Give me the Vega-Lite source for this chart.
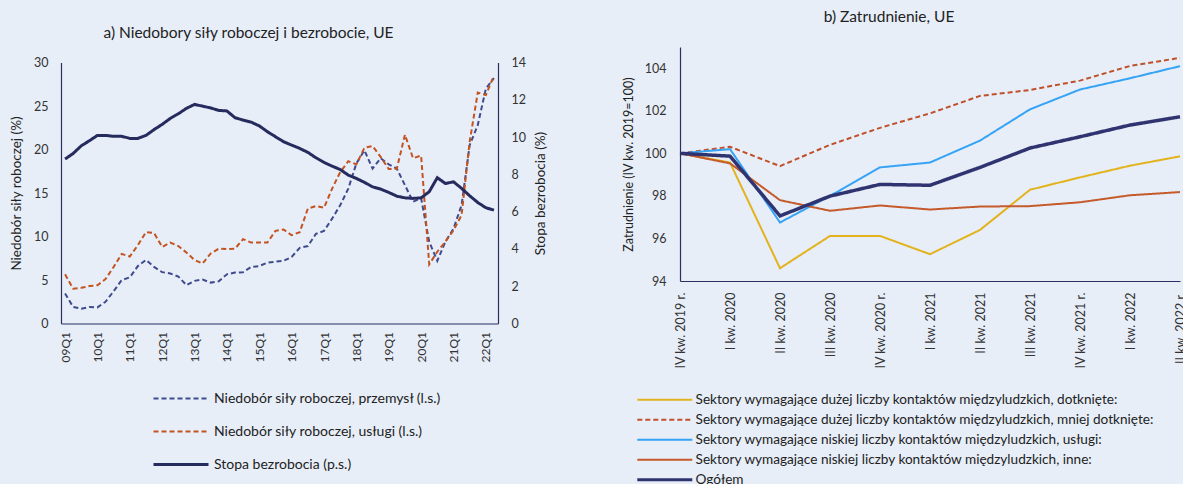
{
  "$schema": "https://vega.github.io/schema/vega-lite/v6.json",
  "background": "#e7eef8",
  "padding": {"left": 9, "top": 9, "right": 0, "bottom": 0},
  "spacing": 75,
  "center": true,
  "config": {
    "view": {"stroke": null},
    "font": "Lato",
    "axis": {"grid": false, "ticks": false, "domainColor": "#2b2f62", "domainWidth": 1.2, "labelFont": "Lato", "labelFontSize": 12.5, "labelColor": "#333333", "titleFont": "Lato", "titleFontSize": 13.5, "titleFontWeight": "normal", "titleColor": "#222222"},
    "legend": {"labelFont": "Lato", "labelColor": "#222222", "symbolType": "stroke", "symbolSize": 3025, "symbolStrokeWidth": 2, "title": null, "labelLimit": 0},
    "title": {"font": "Lato", "fontSize": 15.5, "fontWeight": "normal", "color": "#222222"}
  },
  "datasets": {
    "left": [
      {"q": "09Q1", "p": 3.45, "u": 5.65, "b": 8.82},
      {"q": "09Q2", "p": 1.9, "u": 4.0, "b": 9.12},
      {"q": "09Q3", "p": 1.7, "u": 4.1, "b": 9.53},
      {"q": "09Q4", "p": 1.9, "u": 4.3, "b": 9.8},
      {"q": "10Q1", "p": 1.85, "u": 4.4, "b": 10.09},
      {"q": "10Q2", "p": 2.5, "u": 5.1, "b": 10.09},
      {"q": "10Q3", "p": 3.7, "u": 6.5, "b": 10.04},
      {"q": "10Q4", "p": 5.0, "u": 8.0, "b": 10.04},
      {"q": "11Q1", "p": 5.3, "u": 7.7, "b": 9.93},
      {"q": "11Q2", "p": 6.6, "u": 9.0, "b": 9.93},
      {"q": "11Q3", "p": 7.3, "u": 10.5, "b": 10.09},
      {"q": "11Q4", "p": 6.5, "u": 10.4, "b": 10.4},
      {"q": "12Q1", "p": 5.9, "u": 8.8, "b": 10.68},
      {"q": "12Q2", "p": 5.75, "u": 9.3, "b": 11.0},
      {"q": "12Q3", "p": 5.4, "u": 8.9, "b": 11.25},
      {"q": "12Q4", "p": 4.4, "u": 8.15, "b": 11.54},
      {"q": "13Q1", "p": 4.9, "u": 7.3, "b": 11.75},
      {"q": "13Q2", "p": 5.05, "u": 6.9, "b": 11.66},
      {"q": "13Q3", "p": 4.7, "u": 8.05, "b": 11.56},
      {"q": "13Q4", "p": 4.85, "u": 8.6, "b": 11.43},
      {"q": "14Q1", "p": 5.65, "u": 8.55, "b": 11.4},
      {"q": "14Q2", "p": 5.85, "u": 8.6, "b": 11.04},
      {"q": "14Q3", "p": 5.9, "u": 9.7, "b": 10.91},
      {"q": "14Q4", "p": 6.5, "u": 9.3, "b": 10.8},
      {"q": "15Q1", "p": 6.6, "u": 9.3, "b": 10.6},
      {"q": "15Q2", "p": 7.0, "u": 9.3, "b": 10.29},
      {"q": "15Q3", "p": 7.1, "u": 10.65, "b": 10.02},
      {"q": "15Q4", "p": 7.2, "u": 10.8, "b": 9.75},
      {"q": "16Q1", "p": 7.65, "u": 10.15, "b": 9.57},
      {"q": "16Q2", "p": 8.7, "u": 10.5, "b": 9.39},
      {"q": "16Q3", "p": 8.9, "u": 13.2, "b": 9.18},
      {"q": "16Q4", "p": 10.3, "u": 13.5, "b": 8.89},
      {"q": "17Q1", "p": 10.65, "u": 13.3, "b": 8.64},
      {"q": "17Q2", "p": 12.05, "u": 15.5, "b": 8.44},
      {"q": "17Q3", "p": 13.6, "u": 17.4, "b": 8.26},
      {"q": "17Q4", "p": 15.5, "u": 18.65, "b": 7.96},
      {"q": "18Q1", "p": 18.4, "u": 18.3, "b": 7.78},
      {"q": "18Q2", "p": 19.9, "u": 20.2, "b": 7.57},
      {"q": "18Q3", "p": 17.8, "u": 20.4, "b": 7.33},
      {"q": "18Q4", "p": 19.0, "u": 19.15, "b": 7.21},
      {"q": "19Q1", "p": 18.3, "u": 17.75, "b": 7.03},
      {"q": "19Q2", "p": 17.8, "u": 17.8, "b": 6.83},
      {"q": "19Q3", "p": 15.9, "u": 21.7, "b": 6.74},
      {"q": "19Q4", "p": 14.0, "u": 19.0, "b": 6.71},
      {"q": "20Q1", "p": 14.4, "u": 19.3, "b": 6.74},
      {"q": "20Q2", "p": 9.4, "u": 6.8, "b": 7.07},
      {"q": "20Q3", "p": 7.2, "u": 8.25, "b": 7.82},
      {"q": "20Q4", "p": 9.4, "u": 9.4, "b": 7.51},
      {"q": "21Q1", "p": 10.9, "u": 10.7, "b": 7.6},
      {"q": "21Q2", "p": 13.6, "u": 12.45, "b": 7.25},
      {"q": "21Q3", "p": 20.5, "u": 20.9, "b": 6.85},
      {"q": "21Q4", "p": 22.8, "u": 26.55, "b": 6.49},
      {"q": "22Q1", "p": 27.0, "u": 26.25, "b": 6.21},
      {"q": "22Q2", "p": 28.2, "u": 28.5, "b": 6.08}
    ],
    "right": [
      {"k": "IV kw. 2019 r.", "y1": 100, "y2": 100, "y3": 100, "y4": 100, "og": 100},
      {"k": "I kw. 2020", "y1": 99.57, "y2": 100.31, "y3": 100.2, "y4": 99.53, "og": 99.87},
      {"k": "II kw. 2020", "y1": 94.6, "y2": 99.4, "y3": 96.75, "y4": 97.8, "og": 97.06},
      {"k": "III kw. 2020", "y1": 96.12, "y2": 100.4, "y3": 98.0, "y4": 97.3, "og": 97.99},
      {"k": "IV kw. 2020 r.", "y1": 96.12, "y2": 101.2, "y3": 99.34, "y4": 97.55, "og": 98.54},
      {"k": "I kw. 2021", "y1": 95.26, "y2": 101.88, "y3": 99.57, "y4": 97.36, "og": 98.5},
      {"k": "II kw. 2021", "y1": 96.4, "y2": 102.7, "y3": 100.6, "y4": 97.5, "og": 99.34},
      {"k": "III kw. 2021", "y1": 98.29, "y2": 102.98, "y3": 102.07, "y4": 97.52, "og": 100.25},
      {"k": "IV kw. 2021 r.", "y1": 98.87, "y2": 103.42, "y3": 103.0, "y4": 97.7, "og": 100.78},
      {"k": "I kw. 2022", "y1": 99.42, "y2": 104.11, "y3": 103.53, "y4": 98.03, "og": 101.33},
      {"k": "II kw. 2022 r.", "y1": 99.86, "y2": 104.49, "y3": 104.1, "y4": 98.18, "og": 101.72}
    ]
  },
  "hconcat": [
    {
      "data": {"name": "left"},
      "width": 437,
      "height": 261,
      "title": {"text": "a) Niedobory siły roboczej i bezrobocie, UE", "frame": "group", "dx": -31, "offset": 15},
      "encoding": {
        "x": {"field": "q", "type": "ordinal", "sort": null, "scale": {"type": "point", "padding": 0.5},
          "axis": {"title": null, "labelAngle": -90, "labelPadding": 8, "labelFontSize": 12, "labelExpr": "indexof(datum.value, 'Q1') >= 0 ? datum.value : ''"}}
      },
      "layer": [
        {
          "transform": [{"fold": ["p", "u"]}],
          "mark": {"type": "line", "strokeWidth": 2},
          "encoding": {
            "y": {"field": "value", "type": "quantitative", "scale": {"domain": [0, 30], "nice": false},
              "axis": {"title": "Niedobór siły roboczej (%)", "values": [0, 5, 10, 15, 20, 25, 30], "labelPadding": 13, "titlePadding": 10}},
            "color": {"field": "key", "type": "nominal",
              "scale": {"domain": ["p", "u", "b"], "range": ["#3f4b8c", "#c4531f", "#262b5e"]},
              "legend": {"orient": "none", "legendX": 106, "legendY": 322, "padding": 7, "labelFontSize": 14, "rowPadding": 19, "labelOffset": 26,
                "labelExpr": "datum.value == 'p' ? 'Niedobór siły roboczej, przemysł (l.s.)' : datum.value == 'u' ? 'Niedobór siły roboczej, usługi (l.s.)' : 'Stopa bezrobocia (p.s.)'",
                "encode": {"symbols": {"update": {"strokeWidth": {"signal": "datum.value == 'b' ? 3 : 2"}}}}}},
            "strokeDash": {"field": "key", "type": "nominal", "scale": {"domain": ["p", "u", "b"], "range": [[5, 3], [5, 3], [1, 0]]}}
          }
        },
        {
          "transform": [{"fold": ["b"]}],
          "mark": {"type": "line", "strokeWidth": 3},
          "encoding": {
            "y": {"field": "value", "type": "quantitative", "scale": {"domain": [0, 14], "nice": false},
              "axis": {"orient": "right", "title": "Stopa bezrobocia (%)", "titleAngle": 270, "values": [0, 2, 4, 6, 8, 10, 12, 14], "labelPadding": 13, "titlePadding": 22}},
            "color": {"field": "key", "type": "nominal", "scale": {"domain": ["p", "u", "b"]}},
            "strokeDash": {"field": "key", "type": "nominal", "scale": {"domain": ["p", "u", "b"]}}
          }
        }
      ],
      "resolve": {"scale": {"y": "independent"}}
    },
    {
      "data": {"name": "right"},
      "width": 500,
      "height": 234,
      "title": {"text": "b) Zatrudnienie, UE", "frame": "group", "dx": -41, "offset": 22},
      "encoding": {
        "x": {"field": "k", "type": "ordinal", "sort": null, "scale": {"type": "point", "padding": 0},
          "axis": {"title": null, "labelAngle": -90, "labelPadding": 11, "labelFontSize": 12.5}},
        "y": {"field": "value", "type": "quantitative", "scale": {"domain": [94, 105], "nice": false},
          "axis": {"title": "Zatrudnienie (IV kw. 2019=100)", "values": [94, 96, 98, 100, 102, 104], "labelPadding": 14, "titlePadding": 9, "titleFontSize": 12.5}}
      },
      "layer": [
        {
          "transform": [{"fold": ["y1", "y2", "y3", "y4"]}],
          "mark": {"type": "line", "strokeWidth": 2},
          "encoding": {
            "color": {"field": "key", "type": "nominal",
              "scale": {"domain": ["y1", "y2", "y3", "y4", "og"], "range": ["#e2b31c", "#c0502a", "#36a3f5", "#c55a2a", "#2f3470"]},
              "legend": {"orient": "none", "legendX": -29, "legendY": 339, "padding": 7, "labelFontSize": 13.6, "rowPadding": 5, "labelOffset": 24,
                "labelExpr": "datum.value == 'y1' ? 'Sektory wymagające dużej liczby kontaktów międzyludzkich, dotknięte:' : datum.value == 'y2' ? 'Sektory wymagające dużej liczby kontaktów międzyludzkich, mniej dotknięte:' : datum.value == 'y3' ? 'Sektory wymagające niskiej liczby kontaktów międzyludzkich, usługi:' : datum.value == 'y4' ? 'Sektory wymagające niskiej liczby kontaktów międzyludzkich, inne:' : 'Ogółem'",
                "encode": {"symbols": {"update": {"strokeWidth": {"signal": "datum.value == 'og' ? 3 : 2"}}}}}},
            "strokeDash": {"field": "key", "type": "nominal", "scale": {"domain": ["y1", "y2", "y3", "y4", "og"], "range": [[1, 0], [5, 3], [1, 0], [1, 0], [1, 0]]}}
          }
        },
        {
          "transform": [{"fold": ["og"]}],
          "mark": {"type": "line", "strokeWidth": 3.5},
          "encoding": {
            "color": {"field": "key", "type": "nominal", "scale": {"domain": ["y1", "y2", "y3", "y4", "og"]}},
            "strokeDash": {"field": "key", "type": "nominal", "scale": {"domain": ["y1", "y2", "y3", "y4", "og"]}}
          }
        }
      ]
    }
  ],
  "resolve": {"scale": {"color": "independent", "strokeDash": "independent"}, "legend": {"color": "independent", "strokeDash": "independent"}}
}
